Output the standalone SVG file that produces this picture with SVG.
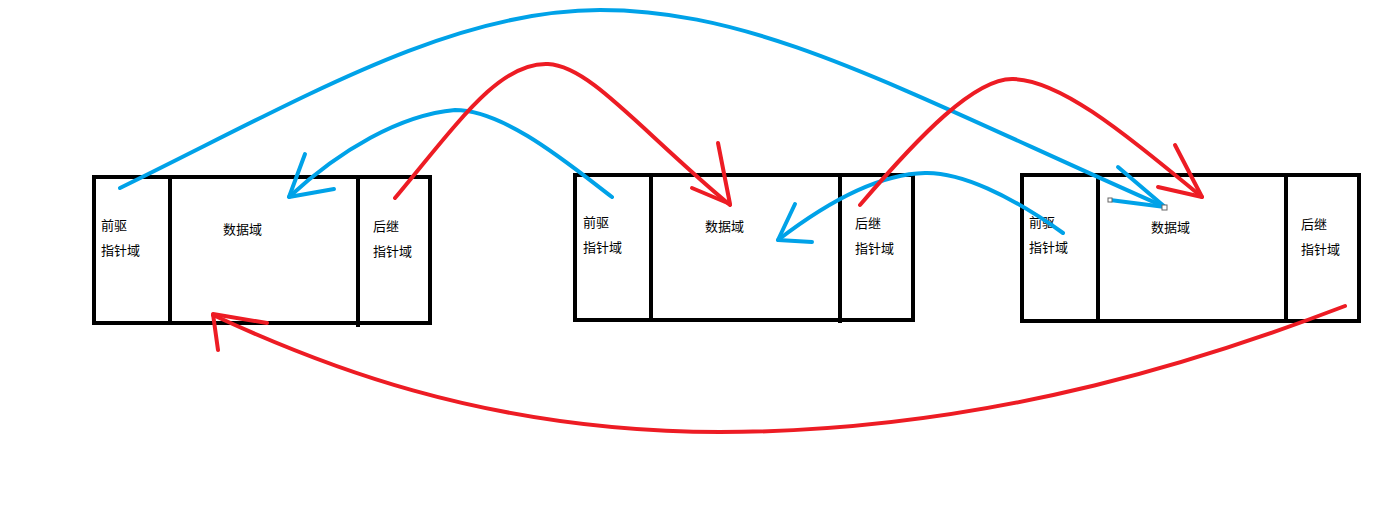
<svg xmlns="http://www.w3.org/2000/svg" width="1377" height="519" viewBox="0 0 1377 519">
<style>
.box{fill:none;stroke:#000;stroke-width:4}
.div{stroke:#000;stroke-width:4}
.t{font-family:"Noto Sans CJK SC","Noto Sans",sans-serif;font-size:13px;fill:#000}
.b{fill:none;stroke:#00A2E8;stroke-width:4;stroke-linecap:round;stroke-linejoin:round}
.r{fill:none;stroke:#ED1C24;stroke-width:4;stroke-linecap:round;stroke-linejoin:round}
.h{fill:#fff;stroke:#666;stroke-width:1}
</style>
<rect width="1377" height="519" fill="#fff"/>
<g id="node1">
<rect class="box" x="94" y="177" width="336" height="146"/>
<line class="div" x1="170" y1="177" x2="170" y2="323"/>
<line class="div" x1="358" y1="177" x2="358" y2="327"/>
<text class="t" x="101" y="230">前驱</text>
<text class="t" x="101" y="255">指针域</text>
<text class="t" x="223" y="234">数据域</text>
<text class="t" x="373" y="231">后继</text>
<text class="t" x="373" y="256">指针域</text>
</g>
<g id="node2">
<rect class="box" x="575" y="175" width="338" height="145"/>
<line class="div" x1="651" y1="175" x2="651" y2="320"/>
<line class="div" x1="840" y1="175" x2="840" y2="323"/>
<text class="t" x="583" y="227">前驱</text>
<text class="t" x="583" y="252">指针域</text>
<text class="t" x="705" y="231">数据域</text>
<text class="t" x="855" y="228">后继</text>
<text class="t" x="855" y="253">指针域</text>
</g>
<g id="node3">
<rect class="box" x="1022" y="175" width="337" height="146"/>
<line class="div" x1="1098" y1="175" x2="1098" y2="321"/>
<line class="div" x1="1286" y1="175" x2="1286" y2="321"/>
<text class="t" x="1029" y="227">前驱</text>
<text class="t" x="1029" y="252">指针域</text>
<text class="t" x="1151" y="232">数据域</text>
<text class="t" x="1301" y="229">后继</text>
<text class="t" x="1301" y="254">指针域</text>
</g>
<g id="connectors">
<path class="b" d="M120,188 C300,100 450,10 600,10 C760,10 900,90 1165,207"/>
<path class="b" d="M1118,167 L1165,207 L1110,200"/>
<rect class="h" x="1108" y="198" width="4" height="4"/>
<rect class="h" x="1162" y="205" width="5" height="5"/>
<path class="b" d="M612,197 C570,165 505,110 455,110 C400,115 340,150 289,197"/>
<path class="b" d="M305,154 L289,197 L334,189"/>
<path class="r" d="M395,198 C460,120 500,62 548,64 C590,66 640,130 730,205"/>
<path class="r" d="M718,143 L730,204 L692,188"/>
<path class="b" d="M1063,233 C1010,195 960,172 925,173 C880,174 830,200 778,240"/>
<path class="b" d="M795,204 L778,240 L812,242"/>
<path class="r" d="M860,205 C920,135 975,78 1013,79 C1060,80 1120,130 1202,197"/>
<path class="r" d="M1175,145 L1202,197 L1158,187"/>
<path class="r" d="M1345,306 C1230,350 1000,432 720,432 C480,432 310,360 213,315"/>
<path class="r" d="M267,323 L213,314 L218,350"/>
</g>
</svg>
